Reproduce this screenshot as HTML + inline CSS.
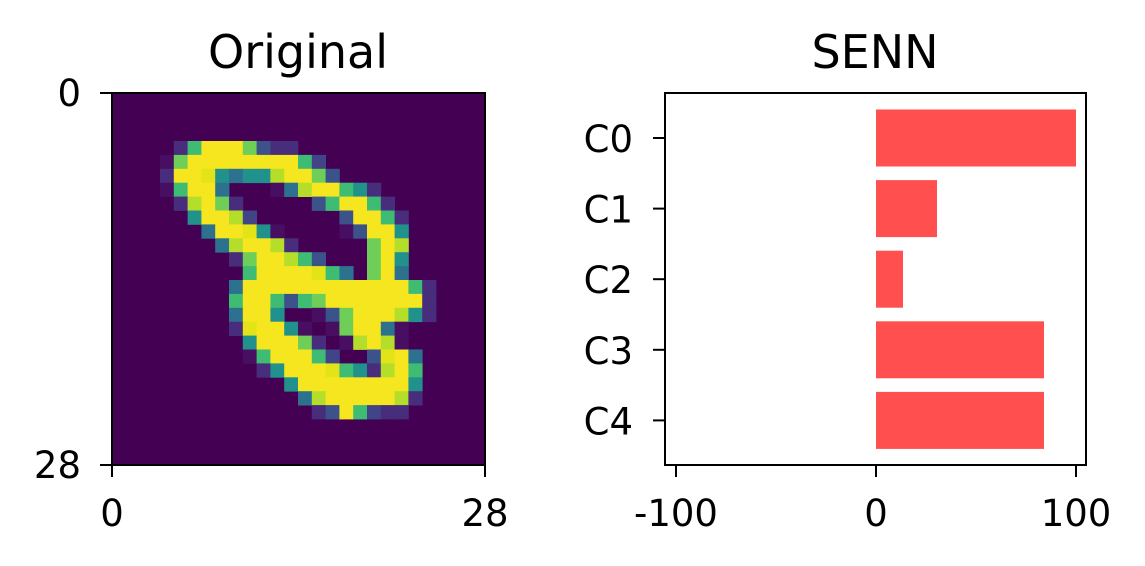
<!DOCTYPE html>
<html><head><meta charset="utf-8"><style>
html,body{margin:0;padding:0;background:#fff;}
svg{display:block;font-family:"DejaVu Sans","Liberation Sans",sans-serif;}
</style></head><body>
<svg id="chart" width="1145" height="566" viewBox="0 0 1145 566" xmlns="http://www.w3.org/2000/svg">
<rect width="1145" height="566" fill="#fff"/>
<text x="298" y="68" font-size="46" text-anchor="middle">Original</text>
<text x="875" y="68" font-size="46" text-anchor="middle">SENN</text>
<g id="img"></g>
<g id="bars"></g>
</svg>
<script>
const pixelRows = [
".pgYYYlbpp",
"dlYYYYYYYYgq",
"pYYetcttyYYlb",
"dgYYc...dcyYYgtp",
".pyYlp.....bgYYgp",
"..tYYyq......bYYgp",
"...cYYetd....dbYYt",
"....cyYYyp.....lYy",
".....plYYygb...lYt",
"......gYYYYegc.lYc",
".....cYYYYYYYYYYYYgp",
".....gYYgbglYYYYYYYp",
".....cYYt..dblYYYytp",
".....peYYtd.dlYYcd",
"......tYYYlp.dyYyd",
"......dgYYYgq..beYc",
".......ptYYYegtpyYg",
".........tYYYYYYYYt",
"..........cyYYYYYyp",
"...........pbYgqpp"
];
const categories = ["C0","C1","C2","C3","C4"];
const values = [100, 30.5, 13.5, 84, 84];
const xTicks = [-100, 0, 100];
const colors = {d:"#470e61",p:"#472d7b",q:"#414487",b:"#3b528b",c:"#2c728e",t:"#21918c",g:"#3fbc73",l:"#6ece58",y:"#b5de2b",e:"#e2e418",Y:"#f5e61f"};
const NS="http://www.w3.org/2000/svg";
function mk(tag,attrs,parent){const e=document.createElementNS(NS,tag);for(const k in attrs)e.setAttribute(k,attrs[k]);parent.appendChild(e);return e;}
const FS=37;
// image panel
const img=document.getElementById('img');
const ix0=112, iy0=93, iw=373, ih=372;
let bg=mk('rect',{x:ix0,y:iy0,width:iw,height:ih,fill:"#440154"},img);


const cw=13.8, ch=13.9, cx0=160, cy0=141;
pixelRows.forEach((row,r)=>{
  for(let c=0;c<row.length;c++){
    const k=row[c]; if(!colors[k]) continue;
    const p=mk('rect',{x:(cx0+c*cw).toFixed(1),y:(cy0+r*ch).toFixed(1),width:cw+0.4,height:ch+0.4,fill:colors[k]},img);
    
    
  }
});
mk('rect',{x:ix0,y:iy0,width:iw,height:ih,fill:"none",stroke:"#000","stroke-width":2},img);
[[0,iy0],[28,iy0+ih]].forEach(([v,y])=>{
  mk('line',{x1:ix0-12,x2:ix0,y1:y,y2:y,stroke:"#000","stroke-width":2},img);
  const t=mk('text',{x:ix0-31,y:y+13,"font-size":FS,"text-anchor":"end"},img);t.textContent=v;
  
  
});
[[0,ix0],[28,ix0+iw]].forEach(([v,x])=>{
  mk('line',{x1:x,x2:x,y1:iy0+ih,y2:iy0+ih+12,stroke:"#000","stroke-width":2},img);
  const t=mk('text',{x:x,y:iy0+ih+61,"font-size":FS,"text-anchor":"middle"},img);t.textContent=v;
  
  
});
// bar panel
const bars=document.getElementById('bars');
const ax0=665, ax1=1086, ay0=93, ay1=465;
const xScale=v=>876+v*2.0;
const band=70.6, yCenter=i=>138+i*band, bh=57;
categories.forEach((cat,i)=>{
  const v=values[i];
  const b=mk('rect',{x:Math.min(xScale(0),xScale(v)),y:yCenter(i)-bh/2,width:Math.abs(xScale(v)-xScale(0)),height:bh,fill:"#ff4f4f"},bars);
  
  
  mk('line',{x1:ax0-12,x2:ax0,y1:yCenter(i),y2:yCenter(i),stroke:"#000","stroke-width":2},bars);
  const t=mk('text',{x:ax0-32,y:yCenter(i)+14,"font-size":FS,"text-anchor":"end"},bars);t.textContent=cat;
  
  
});
xTicks.forEach(v=>{
  const x=xScale(v);
  mk('line',{x1:x,x2:x,y1:ay1,y2:ay1+12,stroke:"#000","stroke-width":2},bars);
  const t=mk('text',{x:x,y:ay1+61,"font-size":FS,"text-anchor":"middle"},bars);t.textContent=v;
  
  
});
mk('rect',{x:ax0,y:ay0,width:ax1-ax0,height:ay1-ay0,fill:"none",stroke:"#000","stroke-width":2},bars);
</script>
</body></html>
